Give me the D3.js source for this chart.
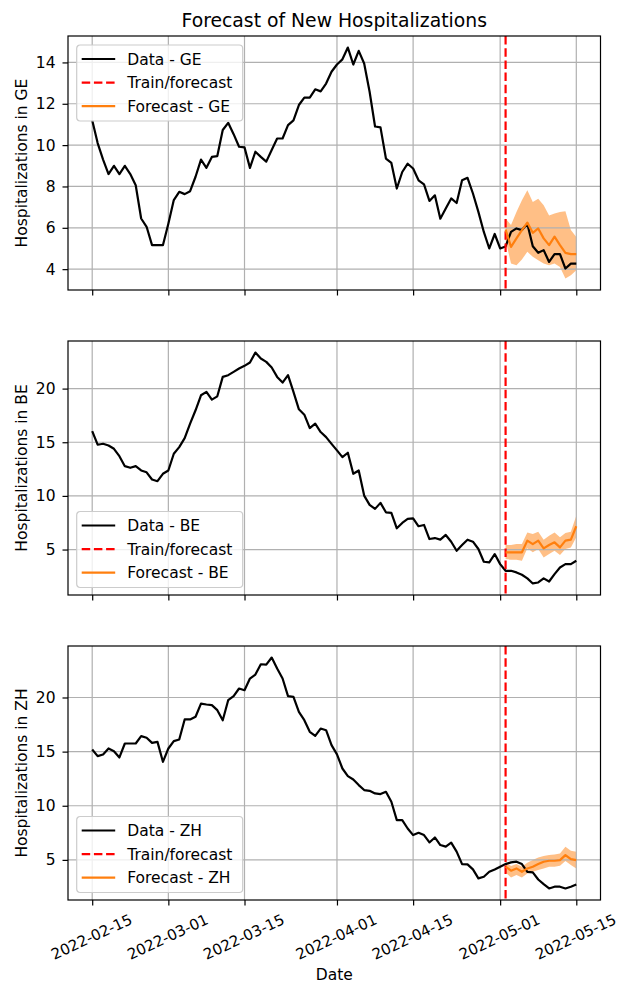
<!DOCTYPE html>
<html>
<head>
<meta charset="utf-8">
<script src="https://cdn.jsdelivr.net/npm/d3@7"></script>
<style>
  body { margin: 0; background: #fff; }
  text { font-family: "DejaVu Sans", sans-serif; fill: #000; }
</style>
</head>
<body>
<script>
// daily values, 2022-02-15 .. 2022-05-15 (90 days)
const geData = [11.2, 10.1, 9.3, 8.6, 9.0, 8.6, 9.0, 8.6, 8.06, 6.45,
  6.05, 5.16, 5.16, 5.16, 6.2, 7.34, 7.74, 7.63, 7.77, 8.47,
  9.3, 8.9, 9.43, 9.47, 10.73, 11.08, 10.53, 9.92, 9.89, 8.9,
  9.68, 9.43, 9.2, 9.76, 10.32, 10.32, 10.97, 11.2, 11.94, 12.3,
  12.3, 12.7, 12.6, 12.98, 13.55, 13.9, 14.15, 14.72, 13.9, 14.56,
  13.95, 12.58, 10.9, 10.86, 9.35, 9.14, 7.9, 8.7, 9.1, 8.87,
  8.3, 8.1, 7.3, 7.57, 6.44, 6.93, 7.42, 7.2, 8.3, 8.42,
  7.66, 6.77, 5.8, 5.0, 5.7, 5.0, 5.1, 5.8, 5.97, 5.89,
  6.2, 5.11, 4.79, 4.92, 4.35, 4.73, 4.73, 4.03, 4.27, 4.27];

const beData = [16.04, 14.77, 14.86, 14.7, 14.39, 13.7, 12.77, 12.62, 12.77, 12.37,
  12.2, 11.53, 11.37, 12.06, 12.37, 13.93, 14.55, 15.39, 16.73, 17.98,
  19.38, 19.69, 18.97, 19.28, 21.09, 21.25, 21.56, 21.87, 22.12, 22.43,
  23.36, 22.8, 22.49, 21.96, 21.09, 20.56, 21.25, 19.69, 18.07, 17.57,
  16.32, 16.73, 15.95, 15.48, 14.85, 14.24, 13.61, 14.02, 12.06, 12.37,
  10.03, 9.16, 8.79, 9.35, 8.47, 8.41, 6.98, 7.48, 7.85, 7.91,
  7.17, 7.29, 5.98, 6.07, 5.92, 6.36, 5.73, 4.89, 5.42, 5.92,
  5.73, 5.05, 3.86, 3.8, 4.58, 3.64, 3.02, 3.02, 2.87, 2.65,
  2.31, 1.84, 1.93, 2.31, 2.02, 2.71, 3.33, 3.64, 3.64, 3.96];

const zhData = [15.2, 14.58, 14.73, 15.29, 15.04, 14.46, 15.75, 15.75, 15.75, 16.43,
  16.28, 15.81, 15.9, 14.06, 15.29, 15.97, 16.12, 17.97, 17.97, 18.22,
  19.44, 19.35, 19.29, 18.83, 17.9, 19.75, 20.12, 20.83, 20.67, 21.75,
  22.12, 23.07, 23.04, 23.69, 22.67, 21.75, 20.12, 20.06, 18.67, 17.9,
  16.83, 16.46, 17.13, 16.98, 15.6, 14.75, 13.44, 12.74, 12.43, 11.91,
  11.45, 11.38, 11.14, 11.08, 11.29, 10.37, 8.67, 8.67, 7.9, 7.29,
  7.5, 7.29, 6.61, 7.07, 6.37, 6.22, 6.59, 5.76, 4.61, 4.58,
  4.12, 3.29, 3.44, 3.9, 4.12, 4.37, 4.61, 4.77, 4.83, 4.61,
  3.9, 3.84, 3.19, 2.76, 2.36, 2.52, 2.52, 2.36, 2.52, 2.73];

// forecast 2022-05-02 .. 2022-05-15 (14 days): mean, lower, upper
const geFc = [5.92, 5.08, 5.49, 5.89, 6.25, 5.76, 5.97, 5.49, 5.16, 5.57, 5.16, 4.79, 4.73, 4.73];
const geLo = [5.4, 4.27, 4.19, 4.47, 4.84, 4.6, 4.43, 4.27, 4.19, 4.27, 4.11, 3.55, 3.71, 3.95];
const geHi = [6.45, 6.13, 6.77, 7.33, 7.82, 7.25, 7.41, 7.09, 6.6, 6.69, 6.77, 6.8, 5.89, 5.56];

const beFc = [4.74, 4.74, 4.74, 4.74, 5.83, 5.51, 5.83, 5.11, 5.42, 5.67, 5.2, 5.83, 5.92, 7.17];
const beLo = [4.11, 4.05, 4.05, 3.96, 5.11, 4.74, 5.05, 4.27, 4.58, 4.89, 4.49, 5.05, 5.2, 6.14];
const beHi = [5.42, 5.42, 5.51, 5.51, 6.6, 6.45, 6.67, 5.92, 6.29, 6.6, 6.14, 6.54, 6.67, 8.16];

const zhFc = [4.37, 4.0, 4.21, 3.9, 4.21, 4.37, 4.61, 4.83, 4.92, 4.92, 4.98, 5.44, 5.07, 4.98];
const zhLo = [3.84, 3.38, 3.6, 3.38, 3.75, 3.9, 4.06, 4.21, 4.37, 4.37, 4.46, 4.89, 4.52, 4.21];
const zhHi = [4.83, 4.43, 4.61, 4.37, 4.74, 4.98, 5.23, 5.35, 5.44, 5.5, 5.6, 6.21, 5.84, 5.75];

const regions = ["GE", "BE", "ZH"];
const startDate = "2022-02-15";
const endDate = "2022-05-15";
const splitDate = "2022-05-02";
const xTickLabels = ["2022-02-15", "2022-03-01", "2022-03-15", "2022-04-01", "2022-04-15", "2022-05-01", "2022-05-15"];
const yTicks = [[4, 6, 8, 10, 12, 14], [5, 10, 15, 20], [5, 10, 15, 20]];

const panels = [
  { name: regions[0], data: geData, fc: geFc, lo: geLo, hi: geHi, legend: "top" },
  { name: regions[1], data: beData, fc: beFc, lo: beLo, hi: beHi, legend: "bottom" },
  { name: regions[2], data: zhData, fc: zhFc, lo: zhLo, hi: zhHi, legend: "bottom" }
];

// layout
const W = 618, H = 984;
const left = 68, right = 600.5;
const tops = [36, 341, 646];
const panelH = 254;
const fs = 15.5;

const parse = d3.utcParse("%Y-%m-%d");
const days = d3.utcDay.range(parse(startDate), d3.utcDay.offset(parse(endDate), 1));
const fcDays = d3.utcDay.range(parse(splitDate), d3.utcDay.offset(parse(endDate), 1));

// matplotlib style 5% margins
const pad = (parse(endDate) - parse(startDate)) * 0.05;
const x = d3.scaleUtc()
  .domain([new Date(+parse(startDate) - pad), new Date(+parse(endDate) + pad)])
  .range([left, right]);

const svg = d3.select("body").append("svg")
  .attr("width", W)
  .attr("height", H);

svg.append("text")
  .attr("x", (left + right) / 2)
  .attr("y", 27)
  .attr("text-anchor", "middle")
  .style("font-size", "18.8px")
  .text("Forecast of New Hospitalizations");

panels.forEach((p, i) => drawPanel(p, i));

function drawPanel(p, i) {
  let top = tops[i], bottom = top + panelH;
  let all = p.data.concat(p.lo, p.hi);
  let [mn, mx] = d3.extent(all);
  let m = (mx - mn) * 0.05;
  let y = d3.scaleLinear().domain([mn - m, mx + m]).range([bottom, top]);

  let g = svg.append("g");

  // band first (below the grid, like fill_between)
  let band = d3.area()
    .x((d, j) => x(fcDays[j]))
    .y0((d, j) => y(p.lo[j]))
    .y1((d, j) => y(p.hi[j]));
  g.append("path")
    .datum(p.fc)
    .attr("d", band)
    .attr("fill", "#ff7f0e")
    .attr("fill-opacity", 0.5);

  // grid
  let xt = xTickLabels.map(parse);
  g.selectAll(".vgrid").data(xt).enter().append("line")
    .attr("x1", d => x(d)).attr("x2", d => x(d))
    .attr("y1", top).attr("y2", bottom)
    .attr("stroke", "#b0b0b0").attr("stroke-width", 1.2);
  g.selectAll(".hgrid").data(yTicks[i]).enter().append("line")
    .attr("x1", left).attr("x2", right)
    .attr("y1", d => y(d)).attr("y2", d => y(d))
    .attr("stroke", "#b0b0b0").attr("stroke-width", 1.2);

  // lines
  let line = d3.line().x((d, j) => x(days[j])).y(d => y(d));
  g.append("path").datum(p.data)
    .attr("d", line)
    .attr("fill", "none").attr("stroke", "#000").attr("stroke-width", 2.2)
    .attr("stroke-linejoin", "round");

  g.append("line")
    .attr("x1", x(parse(splitDate))).attr("x2", x(parse(splitDate)))
    .attr("y1", top).attr("y2", bottom)
    .attr("stroke", "red").attr("stroke-width", 2.2)
    .attr("stroke-dasharray", "8.5,3.7");

  let fline = d3.line().x((d, j) => x(fcDays[j])).y(d => y(d));
  g.append("path").datum(p.fc)
    .attr("d", fline)
    .attr("fill", "none").attr("stroke", "#ff7f0e").attr("stroke-width", 2.2)
    .attr("stroke-linejoin", "round");

  // frame
  g.append("rect")
    .attr("x", left).attr("y", top)
    .attr("width", right - left).attr("height", panelH)
    .attr("fill", "none").attr("stroke", "#000").attr("stroke-width", 1.2);

  // axes
  let yAxis = d3.axisLeft(y).tickValues(yTicks[i]).tickSize(5.5).tickPadding(7);
  let ya = g.append("g").attr("transform", `translate(${left},0)`).call(yAxis);
  ya.select(".domain").remove();
  ya.selectAll("line").attr("stroke-width", 1.2);
  ya.selectAll("text").style("font-size", fs + "px").attr("font-family", "DejaVu Sans");

  let xAxis = d3.axisBottom(x).tickValues(xt).tickSize(5.5)
    .tickFormat(i == 2 ? d3.utcFormat("%Y-%m-%d") : "");
  let xa = g.append("g").attr("transform", `translate(0,${bottom})`).call(xAxis);
  xa.select(".domain").remove();
  xa.selectAll("line").attr("stroke-width", 1.2);
  if (i == 2) {
    xa.selectAll("text")
      .attr("y", 0).attr("dy", null)
      .attr("text-anchor", "middle")
      .attr("dominant-baseline", "central")
      .attr("transform", "translate(-1,37) rotate(-25)")
      .attr("font-family", "DejaVu Sans")
      .style("font-size", "15px");
  }

  // y label
  svg.append("text")
    .attr("transform", `translate(26.5,${(top + bottom) / 2}) rotate(-90)`)
    .attr("text-anchor", "middle")
    .style("font-size", fs + "px")
    .text("Hospitalizations in " + p.name);

  drawLegend(g, p, top, bottom);
}

function drawLegend(g, p, top, bottom) {
  let bw = 166, bh = 76;
  let bx = left + 8.7;
  let by = p.legend == "top" ? top + 9 : bottom - 7.5 - bh;
  let lg = g.append("g").attr("transform", `translate(${bx},${by})`);
  lg.append("rect")
    .attr("width", bw).attr("height", bh)
    .attr("rx", 3.5)
    .attr("fill", "#fff").attr("fill-opacity", 0.8)
    .attr("stroke", "#cccccc").attr("stroke-width", 1.2);
  let items = [
    { label: "Data - " + p.name, color: "#000", dash: null },
    { label: "Train/forecast", color: "red", dash: "8.5,3.7" },
    { label: "Forecast - " + p.name, color: "#ff7f0e", dash: null }
  ];
  items.forEach((it, k) => {
    let cy = 14 + k * 23.6;
    lg.append("line")
      .attr("x1", 5).attr("x2", 38.5)
      .attr("y1", cy).attr("y2", cy)
      .attr("stroke", it.color).attr("stroke-width", 2.2)
      .attr("stroke-dasharray", it.dash);
    lg.append("text")
      .attr("x", 50.5).attr("y", cy)
      .attr("dy", "0.36em")
      .style("font-size", fs + "px")
      .text(it.label);
  });
}

svg.append("text")
  .attr("x", (left + right) / 2)
  .attr("y", 980)
  .attr("text-anchor", "middle")
  .style("font-size", fs + "px")
  .text("Date");
</script>
</body>
</html>
